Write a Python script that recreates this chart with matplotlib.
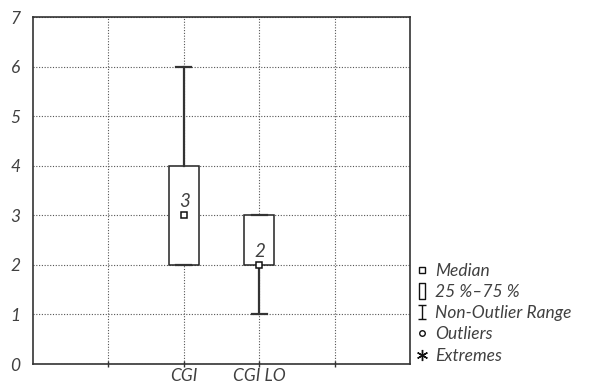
import numpy as np
import matplotlib
matplotlib.use("Agg")
import matplotlib.pyplot as plt
from matplotlib.lines import Line2D
from matplotlib.path import Path

plt.rcParams['font.family'] = ['Lato', 'DejaVu Sans']

# Données
categories = ['CGI', 'CGI LO']
positions = [2, 3]
medians = [3, 2]
q1 = [2, 2]
q3 = [4, 3]
whisker_low = [2, 1]
whisker_high = [6, 3]
median_labels = ['3', '2']
yticks = [0, 1, 2, 3, 4, 5, 6, 7]

legend_labels = ['Median', '25 %\u201375 %', 'Non-Outlier Range', 'Outliers', 'Extremes']

text_color = '#404040'
font_size = 12.5
font_weight = 'normal'

fig = plt.figure(figsize=(5.96, 3.85), dpi=100)
ax = fig.add_axes([0.0554, 0.0545, 0.6326, 0.9013])

stats = []
for i in range(len(categories)):
    stats.append({
        'med': medians[i], 'q1': q1[i], 'q3': q3[i],
        'whislo': whisker_low[i], 'whishi': whisker_high[i],
        'fliers': [], 'label': categories[i],
    })

ax.bxp(stats, positions=positions, widths=0.4, showfliers=False,
       patch_artist=True,
       boxprops=dict(facecolor='white', edgecolor='#222222', linewidth=1.1),
       whiskerprops=dict(color='#333333', linewidth=1.6),
       capprops=dict(color='#333333', linewidth=1.6),
       medianprops=dict(linewidth=0),
       capwidths=0.2, zorder=3)

# Marqueurs de médiane
ax.plot(positions, medians, linestyle='none', marker='s', markersize=4.5,
        markerfacecolor='white', markeredgecolor='#111111',
        markeredgewidth=1.1, zorder=5)

for x, m, lab in zip(positions, medians, median_labels):
    ax.text(x + 0.01, m + 0.1, lab, ha='center', va='bottom', fontsize=13.5,
            style='italic', weight=font_weight, color=text_color, zorder=6)

ax.set_xlim(0, 5)
ax.set_ylim(0, 7)
ax.set_xticks([1, 2, 3, 4])
ax.set_xticklabels(['', categories[0], categories[1], ''])
ax.set_yticks(yticks)
ax.grid(True, linestyle=(0, (1, 1.5)), color='#555555', linewidth=0.8)
ax.set_axisbelow(True)

for sp in ax.spines.values():
    sp.set_color('#333333')
    sp.set_linewidth(1.2)

ax.tick_params(axis='both', direction='inout', length=4, width=1.0,
               color='#333333', labelsize=font_size, labelcolor=text_color, pad=1)
ax.tick_params(axis='y', length=0, pad=9)
for lab in ax.get_xticklabels() + ax.get_yticklabels():
    lab.set_fontstyle('italic')
    lab.set_fontweight(font_weight)

# Légende
tall_rect = Path([(-0.35, -1), (0.35, -1), (0.35, 1), (-0.35, 1), (-0.35, -1)],
                 [Path.MOVETO, Path.LINETO, Path.LINETO, Path.LINETO, Path.CLOSEPOLY])
i_beam = Path([(-0.6, 1), (0.6, 1), (0, 1), (0, -1), (-0.6, -1), (0.6, -1)],
              [Path.MOVETO, Path.LINETO, Path.MOVETO, Path.LINETO, Path.MOVETO, Path.LINETO])

handles = [
    Line2D([], [], linestyle='none', marker='s', markersize=4,
           markerfacecolor='white', markeredgecolor='#111111', markeredgewidth=1.0),
    Line2D([], [], linestyle='none', marker=tall_rect, markersize=11,
           markerfacecolor='white', markeredgecolor='#111111', markeredgewidth=1.0),
    Line2D([], [], linestyle='none', marker=i_beam, markersize=10,
           markerfacecolor='none', markeredgecolor='#111111', markeredgewidth=1.0),
    Line2D([], [], linestyle='none', marker='o', markersize=4,
           markerfacecolor='white', markeredgecolor='#111111', markeredgewidth=1.0),
    Line2D([], [], linestyle='none', marker=(6, 2, 0), markersize=8,
           markeredgecolor='#111111', markeredgewidth=1.0),
]
leg = fig.legend(handles, legend_labels, loc='upper left',
                 bbox_to_anchor=(0.67, 0.358), frameon=False,
                 handlelength=0.8, handletextpad=0.35, labelspacing=0.3,
                 prop=dict(size=font_size, style='italic', weight=font_weight))
for t in leg.get_texts():
    t.set_color(text_color)

fig.savefig('out.png', dpi=100)
